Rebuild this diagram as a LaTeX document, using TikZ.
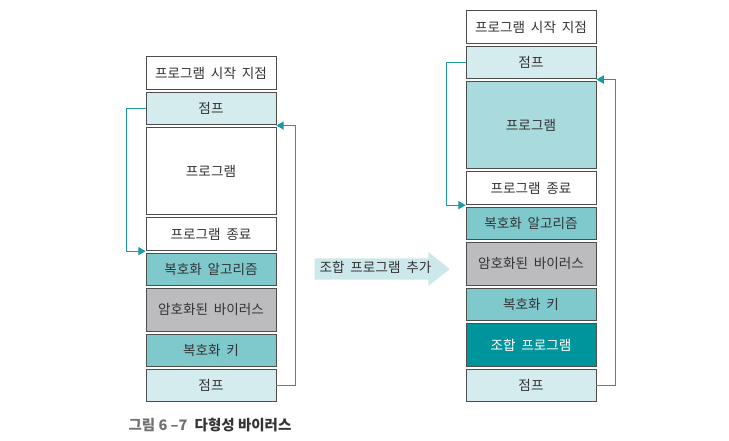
\documentclass[tikz,border=0pt]{standalone}
\usepackage{fontspec}
\setmainfont{Noto Sans CJK KR}[WordSpace=1.9]
\newfontfamily\capfont{Noto Sans CJK KR}[WordSpace=1]
\usetikzlibrary{arrows,positioning,shapes.arrows}
\definecolor{edge}{HTML}{4D4D4D}
\definecolor{txt}{HTML}{333333}
\definecolor{jumpfill}{HTML}{D4ECEE}
\definecolor{tealfill}{HTML}{7FC9CD}
\definecolor{grayfill}{HTML}{BCBCBF}
\definecolor{progfill}{HTML}{A9DADD}
\definecolor{darkteal}{HTML}{00959D}
\definecolor{link}{HTML}{1B9AA1}
\definecolor{addfill}{HTML}{CDE8EB}
\definecolor{capgray}{HTML}{707070}
\tikzset{
    >=triangle 60, % Default arrow tip
    node distance=2pt,
    blk/.style={draw=edge, line width=0.8pt, minimum width=130pt,
        minimum height=32.5pt, inner sep=0pt, text=txt,
        font=\fontsize{13.6}{15}\selectfont},
    tall/.style={minimum height=87.5pt},
    mid/.style={minimum height=43pt},
    jmp/.style={blk, fill=jumpfill},
    dec/.style={blk, fill=tealfill},
    vir/.style={blk, mid, fill=grayfill},
    loop/.style={->, draw=link, line width=1pt},
    addarrow/.style={single arrow, fill=addfill, single arrow head extend=6.2pt,
        single arrow tip angle=77, minimum height=135pt, text height=9pt,
        text depth=2pt, inner ysep=5pt, inner xsep=0pt, text=txt,
        font=\fontsize{13.6}{15}\selectfont}
}

\begin{document}
\begin{tikzpicture}
    \useasboundingbox (0,0) rectangle (729pt,-440pt);
    % before
    \node[blk] (startA) at (211pt,-73pt) {프로그램 시작 지점};
    \node[jmp, below=of startA] (jmpA) {점프};
    \node[blk, tall, below=of jmpA] (progA) {프로그램};
    \node[blk, below=of progA] (endA) {프로그램 종료};
    \node[dec, below=of endA] (decA) {복호화 알고리즘};
    \node[vir, below=of decA] (virA) {암호화된 바이러스};
    \node[dec, below=of virA] (keyA) {복호화 키};
    \node[jmp, below=of keyA] (backA) {점프};
    \draw
        [loop]
        (jmpA.west) -- ++(-19pt,0) |- ([yshift=1.4pt]decA.north west)
    ;
    \draw
        [loop]
        (backA.east) -- ++(19pt,0) |- ([yshift=1.4pt]progA.north east)
    ;
    % after
    \node[blk] (startB) at (531pt,-27pt) {프로그램 시작 지점};
    \node[jmp, below=of startB] (jmpB) {점프};
    \node[blk, tall, fill=progfill, below=of jmpB] (progB) {프로그램};
    \node[blk, below=of progB] (endB) {프로그램 종료};
    \node[dec, below=of endB] (decB) {복호화 알고리즘};
    \node[vir, below=of decB] (virB) {암호화된 바이러스};
    \node[dec, below=of virB] (keyB) {복호화 키};
    \node[blk, mid, fill=darkteal, text=white, below=of keyB] (mixB) {조합 프로그램};
    \node[jmp, below=of mixB] (backB) {점프};
    \draw
        [loop]
        (jmpB.west) -- ++(-19pt,0) |- ([yshift=1.4pt]decB.north west)
    ;
    \draw
        [loop]
        (backB.east) -- ++(19pt,0) |- ([yshift=1.4pt]progB.north east)
    ;
    \node[addarrow] (add) at (375.5pt,-269pt) {조합 프로그램 추가};
    \node
        [anchor=west, font=\capfont\fontsize{14.5}{16}\selectfont\bfseries, text=txt]
        (cap) at (125pt,-425pt) {\textcolor{capgray}{그림 6 –7}\enspace 다형성 바이러스}
    ;
\end{tikzpicture}
\end{document}
